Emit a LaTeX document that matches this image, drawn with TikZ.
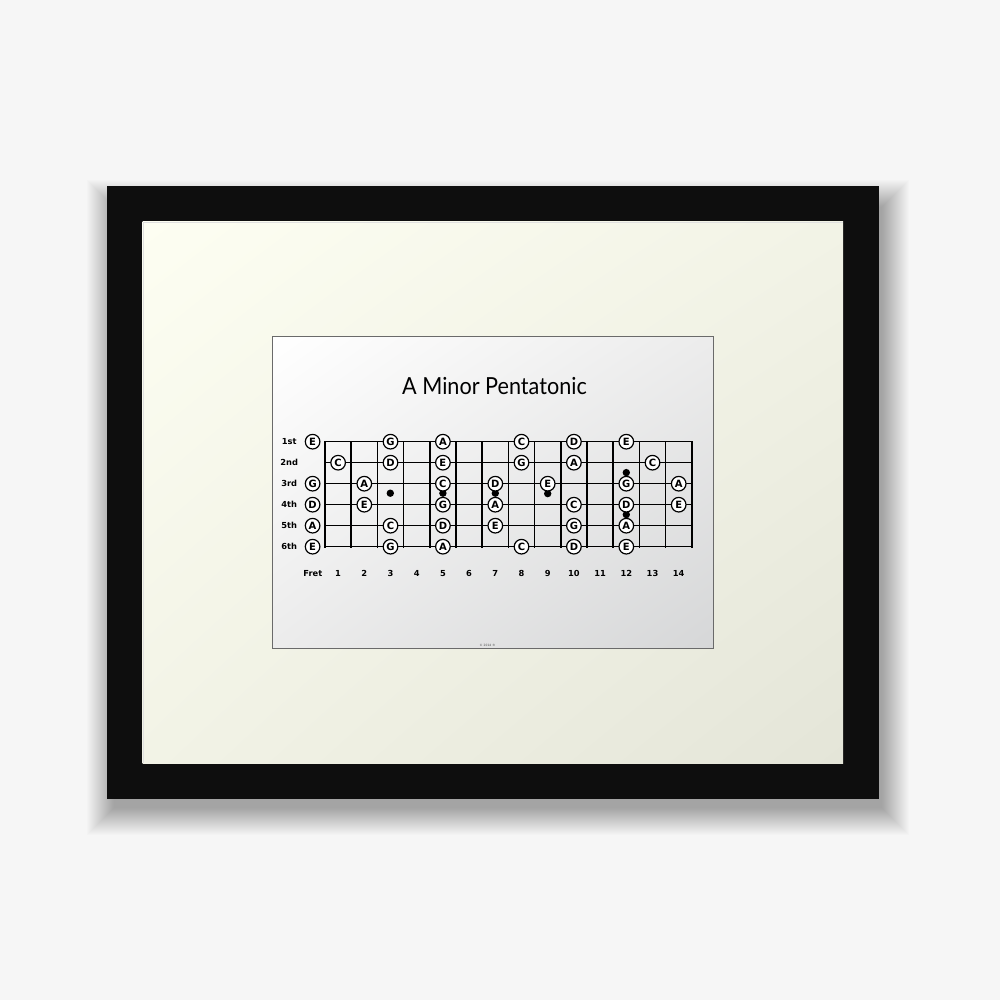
\documentclass[tikz,border=0pt]{standalone}
\usepackage{fontspec}
\usetikzlibrary{shadings}
\newfontfamily\titlefont{Lato}
\newfontfamily\labfont{DejaVu Sans}
\definecolor{bgc}{HTML}{F6F6F6}
\definecolor{framec}{HTML}{0E0E0E}
\definecolor{matA}{HTML}{FDFEF2}
\definecolor{matB}{HTML}{F2F3E6}
\definecolor{matC}{HTML}{E4E5D8}
\definecolor{prA}{HTML}{FFFFFF}
\definecolor{prB}{HTML}{ECECEC}
\definecolor{prC}{HTML}{D6D7D8}
\definecolor{predge}{HTML}{6A6A6A}
\begin{document}
\begin{tikzpicture}[x=1pt,y=-1pt,
  stringline/.style={line width=1.5pt,black},
  fretline/.style={line width=1.6pt,black,line cap=rect},
  note/.style={circle,draw=black,line width=1.2pt,fill=white,minimum size=14.6pt,inner sep=0pt,font=\labfont\bfseries\fontsize{10}{10}\selectfont},
  lab/.style={font=\labfont\bfseries\fontsize{8.3}{9}\selectfont,inner sep=0pt},
  dotmark/.style={circle,fill=black,minimum size=7.4pt,inner sep=0pt}]
\useasboundingbox (0,0) rectangle (1000,1000);
\fill[bgc] (0,0) rectangle (1000,1000);
% soft shadow of the frame
\foreach \k in {1,...,28}{
  \pgfmathsetmacro\r{\k*1.0}
  \fill[black,opacity=0.011] (107+8-\r,186+22-\r) rectangle (879+2+\r,799+8+\r);
}
% frame
\fill[framec] (107,186) rectangle (879,799);
% mat
\shade[upper left=matA,upper right=matB,lower left=matB,lower right=matC] (142.5,222) rectangle (843,763);
\draw[black!12,line width=0.8pt] (143,763) -- (143,222.4) -- (843,222.4);
% print
\shade[upper left=prA,upper right=prB,lower left=prB,lower right=prC] (272.5,336.5) rectangle (713.5,648);
\draw[predge,line width=0.9pt] (272.5,336.5) rectangle (713.5,648);
% title
\node[font=\titlefont\fontsize{23.5}{26}\selectfont,anchor=base,inner sep=0pt] (title) at (494.5,394) {\scalebox{0.92}[1]{A Minor Pentatonic}};
% strings
\foreach \s in {1,...,6}{
  \pgfmathsetmacro\yy{441.7+21*(\s-1)}
  \coordinate (sL\s) at (325,\yy);
  \coordinate (sR\s) at (691.7,\yy);
  \draw[stringline] (sL\s) -- (sR\s);
}
% frets
\foreach \f in {0,...,14}{
  \pgfmathsetmacro\xx{325+26.2*\f}
  \coordinate (fT\f) at (\xx,441.7);
  \coordinate (fB\f) at (\xx,546.7);
  \draw[fretline] (fT\f) -- (fB\f);
}
% position markers
\node[dotmark] (d3) at (390.3,493.2) {};
\node[dotmark] (d5) at (442.9,493.2) {};
\node[dotmark] (d7) at (495.3,493.2) {};
\node[dotmark] (d9) at (547.7,493.6) {};
\node[dotmark] (d12a) at (626.3,472.6) {};
\node[dotmark] (d12b) at (626.3,514.6) {};
% notes
\foreach \s/\f/\n in {1/0/E,1/3/G,1/5/A,1/8/C,1/10/D,1/12/E,
  2/1/C,2/3/D,2/5/E,2/8/G,2/10/A,2/13/C,
  3/0/G,3/2/A,3/5/C,3/7/D,3/9/E,3/12/G,3/14/A,
  4/0/D,4/2/E,4/5/G,4/7/A,4/10/C,4/12/D,4/14/E,
  5/0/A,5/3/C,5/5/D,5/7/E,5/10/G,5/12/A,
  6/0/E,6/3/G,6/5/A,6/8/C,6/10/D,6/12/E}{
  \pgfmathsetmacro\xx{ifthenelse(\f==0,312.6,325+26.2*(\f-0.5))}
  \pgfmathsetmacro\yy{441.7+21*(\s-1)}
  \node[note] (n\s-\f) at (\xx,\yy) {\n};
}
% string labels
\foreach \s/\t in {1/1st,2/2nd,3/3rd,4/4th,5/5th,6/6th}{
  \pgfmathsetmacro\yy{441.7+21*(\s-1)}
  \node[lab] (sl\s) at (289.2,\yy) {\t};
}
% fret numbers
\node[lab] (fretlab) at (312.8,573.7) {Fret};
\foreach \f in {1,...,14}{
  \pgfmathsetmacro\xx{325+26.2*(\f-0.5)}
  \node[lab] (fn\f) at (\xx,573.7) {\f};
}
% copyright
\node[font=\labfont\fontsize{3}{3}\selectfont,inner sep=0pt,text=black!70] (copy) at (487.5,645.3) {© 2014 ®};
\end{tikzpicture}
\end{document}
